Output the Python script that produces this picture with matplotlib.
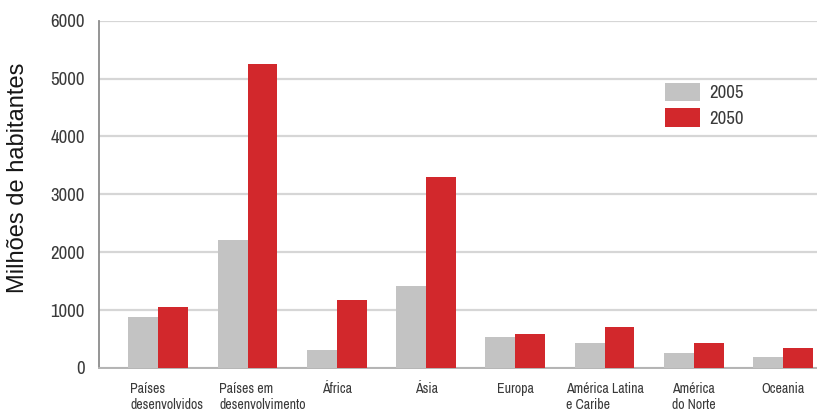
import matplotlib
matplotlib.use("Agg")
import matplotlib.pyplot as plt
import numpy as np

# Population by region (millions of inhabitants)
categories = [
    "Países\ndesenvolvidos",
    "Países em\ndesenvolvimento",
    "África",
    "Ásia",
    "Europa",
    "América Latina\ne Caribe",
    "América\ndo Norte",
    "Oceania",
]
pop_2005 = [880, 2210, 310, 1420, 535, 425, 255, 185]
pop_2050 = [1050, 5250, 1180, 3300, 595, 705, 425, 340]
series_labels = ["2005", "2050"]
yticks = [0, 1000, 2000, 3000, 4000, 5000, 6000]

GRAY = "#c3c3c3"
RED = "#d2282c"
TEXT = "#3a3a3a"
NARROW = ["Archivo Narrow", "Roboto Condensed", "DejaVu Sans"]
ARIAL = ["Liberation Sans", "DejaVu Sans"]

fig = plt.figure(figsize=(8.17, 4.13), dpi=100)
ax = fig.add_axes([0.1206, 0.109, 0.8794, 0.841])

x = np.arange(len(categories))
w = 0.335
ax.bar(x - w / 2, pop_2005, width=w, color=GRAY, label=series_labels[0], zorder=3)
ax.bar(x + w / 2, pop_2050, width=w, color=RED, label=series_labels[1], zorder=3)

ax.set_xlim(-0.67, 7.38)
ax.set_ylim(0, 6000)
ax.set_yticks(yticks)
ax.set_yticklabels([str(v) for v in yticks], family=NARROW, fontsize=13.5, color=TEXT)
ax.yaxis.grid(True, color="#d6d6d6", linewidth=1.6, zorder=0)
ax.tick_params(axis="y", length=0, pad=10)
ax.tick_params(axis="x", length=0)
ax.set_xticks([])

for side in ("top", "right"):
    ax.spines[side].set_visible(False)
ax.spines["left"].set_color("#8c8c8c")
ax.spines["left"].set_linewidth(1.3)
ax.spines["bottom"].set_color("#b4b4b4")
ax.spines["bottom"].set_linewidth(1.4)

# Category labels under each group; the first two start at the grey bar
for i, name in enumerate(categories):
    if i < 2:
        xpos, ha = i - w + 0.02, "left"
    else:
        xpos, ha = i, "center"
    ax.text(xpos, -250, name, ha=ha, va="top", multialignment="left",
            family=NARROW, fontsize=10, color=TEXT, linespacing=1.12)

fig.text(18 / 817, 1 - 178 / 413, "Milhões de habitantes", rotation=90,
         ha="center", va="center", family=ARIAL, fontsize=17, color="#161616")

leg = ax.legend(loc="upper left", bbox_to_anchor=(0.788, 0.821), frameon=False,
                prop={"family": NARROW, "size": 13.5}, handlelength=1.9,
                handleheight=1.15, handletextpad=0.5, labelspacing=0.35,
                borderpad=0, borderaxespad=0)
for t in leg.get_texts():
    t.set_color(TEXT)

fig.savefig("out.png", dpi=100)
